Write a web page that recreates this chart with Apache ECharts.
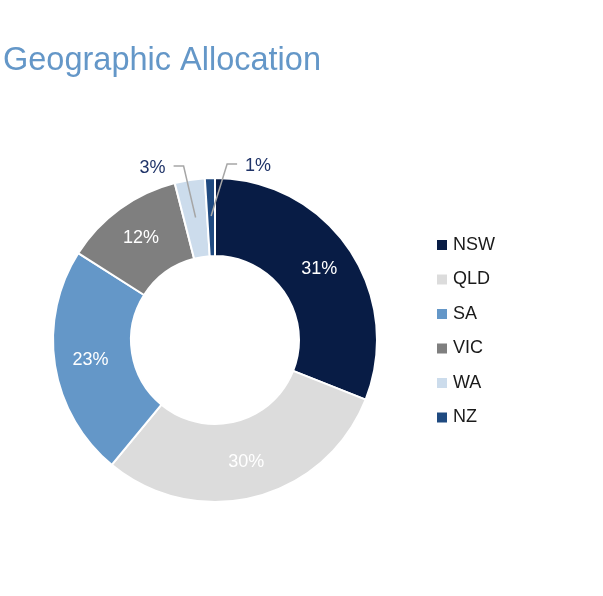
<!DOCTYPE html>
<html>
<head>
<meta charset="utf-8">
<script src="https://cdn.jsdelivr.net/npm/echarts@6/dist/echarts.min.js"></script>
<style>
  html, body { margin: 0; padding: 0; background: #fff; }
  #chart { width: 603px; height: 596px; }
</style>
</head>
<body>
<div id="chart"></div>
<script>
// Geographic allocation donut

const regions = ['NSW', 'QLD', 'SA', 'VIC', 'WA', 'NZ'];
const shares = [31, 30, 23, 12, 3, 1];
const colors = ['#081c45', '#dcdcdc', '#6497c8', '#7f7f7f', '#ccdcec', '#1f4a80'];
// small slices get an outside label, leaning left or right
const outsideLean = { WA: -12, NZ: 16 };

const center = [215, 340];
const radius = [84, 162];
const fontFamily = 'Liberation Sans, Arial, sans-serif';

const chart = echarts.init(document.getElementById('chart'));

// main ring: coloured slices with the inside labels
const ringData = regions.map((name, i) => {
    const item = { name: name, value: shares[i], itemStyle: { color: colors[i] } };
    if (outsideLean[name] !== undefined) {
        item.label = { show: false };
    }
    return item;
});

// overlay ring: invisible slices carrying only the outside labels,
// so the leader lines are drawn on top of the coloured ring
const overlayData = regions.map((name, i) => {
    const item = { name: name, value: shares[i] };
    if (outsideLean[name] !== undefined) {
        item.label = { show: true };
        item.labelLine = { show: true };
    }
    return item;
});

// Start the leader line inside the ring and bend it up to the label
function layoutSmallLabels(params) {
    const name = regions[params.dataIndex];
    const lean = outsideLean[name];
    if (lean === undefined || !params.labelLinePoints) return;

    const p0 = params.labelLinePoints[0];
    const vx = center[0] - p0[0];
    const vy = center[1] - p0[1];
    const len = Math.sqrt(vx * vx + vy * vy);
    const start = [p0[0] + vx / len * 38, p0[1] + vy / len * 38];
    const bend = [start[0] + lean, p0[1] - 14];
    const side = lean < 0 ? -1 : 1;
    const end = [bend[0] + side * 10, bend[1]];

    return {
        x: end[0] + side * 8,
        y: end[1] + 2,
        align: side < 0 ? 'right' : 'left',
        verticalAlign: 'middle',
        labelLinePoints: [start, bend, end]
    };
}

const option = {
    backgroundColor: '#fff',
    animation: false,
    title: {
        text: 'Geographic Allocation',
        left: -2,
        top: 40,
        textStyle: {
            color: '#6497c8',
            fontSize: 32.5,
            fontWeight: 'normal',
            fontFamily: fontFamily
        }
    },
    legend: {
        orient: 'vertical',
        left: 430,
        top: 230,
        icon: 'rect',
        itemWidth: 12,
        itemHeight: 12,
        itemGap: 14.5,
        itemTextGap: 10,
        data: regions,
        textStyle: {
            color: '#1a1a1a',
            fontSize: 18,
            lineHeight: 20,
            fontFamily: fontFamily
        }
    },
    series: [{
        type: 'pie',
        z: 2,
        center: center,
        radius: radius,
        startAngle: 90,
        clockwise: true,
        avoidLabelOverlap: false,
        itemStyle: {
            borderColor: '#fff',
            borderWidth: 2
        },
        label: {
            show: true,
            position: 'inside',
            formatter: '{c}%',
            color: '#fff',
            fontSize: 18,
            fontFamily: fontFamily
        },
        labelLine: { show: false },
        emphasis: { disabled: true },
        data: ringData
    }, {
        type: 'pie',
        z: 3,
        silent: true,
        legendHoverLink: false,
        center: center,
        radius: radius,
        startAngle: 90,
        clockwise: true,
        avoidLabelOverlap: false,
        itemStyle: {
            color: 'rgba(0,0,0,0)',
            borderWidth: 0
        },
        label: {
            show: false,
            position: 'outside',
            formatter: '{c}%',
            color: '#1f3368',
            fontSize: 18,
            fontFamily: fontFamily
        },
        labelLine: {
            show: false,
            length: 15,
            length2: 10,
            smooth: false,
            lineStyle: { color: '#a6a6a6', width: 1.5 }
        },
        labelLayout: layoutSmallLabels,
        emphasis: { disabled: true },
        data: overlayData
    }]
};

chart.setOption(option);

window.addEventListener('resize', () => chart.resize());
</script>
</body>
</html>
